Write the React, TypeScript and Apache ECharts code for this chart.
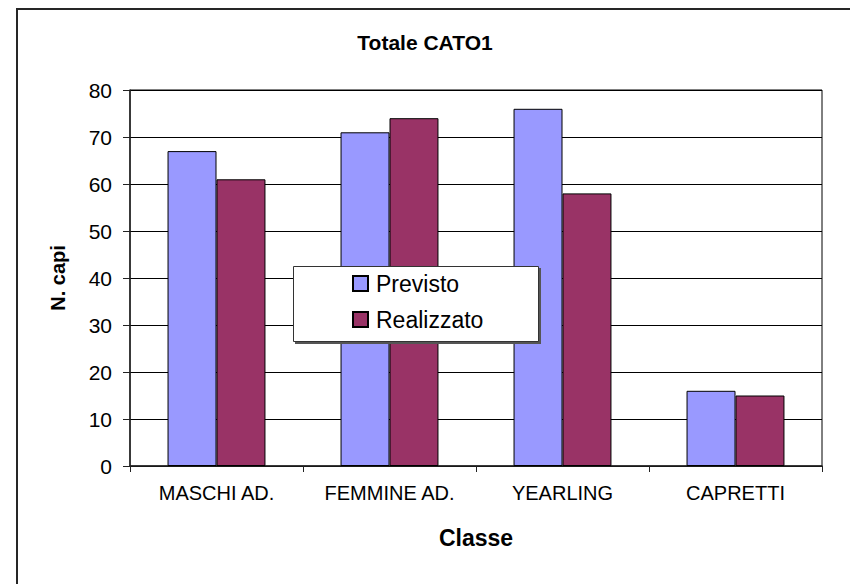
import React, { useEffect, useRef } from "react";
import * as echarts from "echarts";

const categories = ["MASCHI AD.", "FEMMINE AD.", "YEARLING", "CAPRETTI"];
const previsto = [67, 71, 76, 16];
const realizzato = [61, 74, 58, 15];
const seriesNames = ["Previsto", "Realizzato"];
const titleText = "Totale CATO1";
const yAxisName = "N. capi";
const xAxisName = "Classe";

const FONT = '"Liberation Sans", Arial, sans-serif';

export default function App() {
  const ref = useRef<HTMLDivElement>(null);
  useEffect(() => {
    if (!ref.current) return;
    const chart = echarts.init(ref.current, undefined, { renderer: "svg" });
    chart.setOption({
      animation: false,
      backgroundColor: "#ffffff",
      textStyle: { fontFamily: FONT, color: "#000" },
      title: {
        text: titleText,
        left: "center",
        top: 32,
        padding: 0,
        textStyle: { fontFamily: FONT, fontSize: 21, fontWeight: "bold", color: "#000" },
      },
      graphic: [
        {
          type: "rect",
          silent: true,
          z: -10,
          shape: { x: 17, y: 9, width: 900, height: 700 },
          style: { fill: "none", stroke: "#262626", lineWidth: 2 },
        },
        {
          type: "rect",
          silent: true,
          z: 10,
          shape: { x: 295, y: 268, width: 246, height: 76 },
          style: { fill: "#555", stroke: "none" },
        },
        {
          type: "rect",
          silent: true,
          z: 11,
          shape: { x: 293.5, y: 266.5, width: 245, height: 75 },
          style: { fill: "#fff", stroke: "#333", lineWidth: 1 },
        },
      ],
      legend: {
        data: seriesNames,
        orient: "vertical",
        left: 352,
        top: 272,
        padding: 0,
        itemWidth: 15,
        itemHeight: 15,
        itemGap: 13,
        z: 20,
        icon: "rect",
        textStyle: { fontFamily: FONT, fontSize: 23, lineHeight: 23, color: "#000", padding: [0, 0, 0, 3] },
      },
      grid: {
        left: 130,
        top: 90,
        right: 28,
        bottom: 118,
        show: true,
        borderColor: "#000",
        borderWidth: 1,
        backgroundColor: "#fff",
      },
      xAxis: {
        type: "category",
        data: categories,
        name: xAxisName,
        nameLocation: "middle",
        nameGap: 60,
        nameTextStyle: { fontFamily: FONT, fontSize: 23, fontWeight: "bold", color: "#000" },
        axisLine: { lineStyle: { color: "#222", width: 1.5 } },
        axisTick: { show: true, alignWithLabel: false, length: 6, lineStyle: { color: "#222" } },
        axisLabel: { fontFamily: FONT, fontSize: 20, color: "#000", margin: 17, interval: 0 },
        splitLine: { show: false },
      },
      yAxis: {
        type: "value",
        min: 0,
        max: 80,
        interval: 10,
        name: yAxisName,
        nameLocation: "middle",
        nameGap: 62,
        nameRotate: 90,
        nameTextStyle: { fontFamily: FONT, fontSize: 20, fontWeight: "bold", color: "#000" },
        axisLine: { show: true, lineStyle: { color: "#222", width: 1.5 } },
        axisTick: { show: true, length: 7, lineStyle: { color: "#222" } },
        axisLabel: { fontFamily: FONT, fontSize: 21, color: "#000", margin: 18 },
        splitLine: { show: true, lineStyle: { color: "#000", width: 1 } },
      },
      series: [
        {
          name: seriesNames[0],
          type: "bar",
          data: previsto,
          barGap: "0%",
          barCategoryGap: "43.4%",
          itemStyle: { color: "#9999FF", borderColor: "#000", borderWidth: 1 },
        },
        {
          name: seriesNames[1],
          type: "bar",
          data: realizzato,
          barGap: "0%",
          barCategoryGap: "43.4%",
          itemStyle: { color: "#993366", borderColor: "#000", borderWidth: 1 },
        },
      ],
    });
    return () => chart.dispose();
  }, []);
  return (
    <div
      ref={ref}
      style={{ position: "absolute", left: 0, top: 0, width: 850, height: 584 }}
    />
  );
}
